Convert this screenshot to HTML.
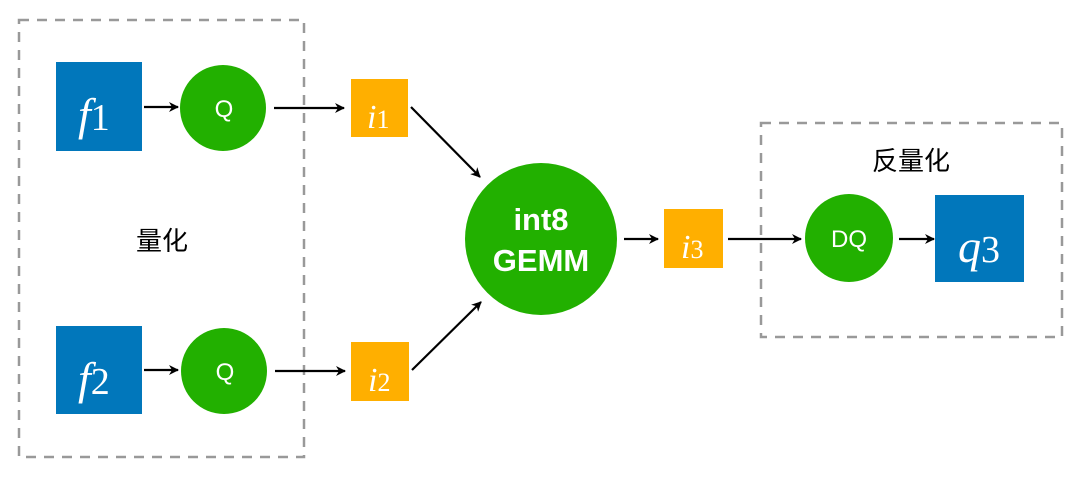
<!DOCTYPE html>
<html><head><meta charset="utf-8"><style>
html,body{margin:0;padding:0;background:#fff;}
</style></head><body>
<svg width="1080" height="476" viewBox="0 0 1080 476" xmlns="http://www.w3.org/2000/svg">
<defs><marker id="a" markerWidth="10" markerHeight="10" refX="9" refY="5" orient="auto" markerUnits="userSpaceOnUse"><path d="M0,0 L10,5 L0,10 L3,5 Z" fill="#000"/></marker></defs>
<g fill="none" stroke="#999" stroke-width="2.5" stroke-dasharray="10,8">
<rect x="19" y="20" width="285" height="437"/>
<rect x="761" y="123" width="301" height="214"/>
</g>
<rect x="56" y="62" width="86" height="89" fill="#0177BB"/>
<rect x="56" y="326" width="86" height="88" fill="#0177BB"/>
<rect x="935" y="195" width="89" height="87" fill="#0177BB"/>
<rect x="351" y="79" width="57" height="58" fill="#FFAF00"/>
<rect x="351" y="342" width="58" height="59" fill="#FFAF00"/>
<rect x="664" y="209" width="59" height="59" fill="#FFAF00"/>
<g fill="#22B000">
<circle cx="223" cy="108" r="43"/>
<circle cx="224" cy="371" r="43"/>
<circle cx="541" cy="239" r="76"/>
<circle cx="849" cy="238" r="44"/>
</g>
<g stroke="#000" stroke-width="2.2" marker-end="url(#a)">
<line x1="144" y1="107" x2="178" y2="107"/>
<line x1="144" y1="370" x2="178" y2="370"/>
<line x1="274" y1="108" x2="344" y2="108"/>
<line x1="275" y1="371" x2="345" y2="371"/>
<line x1="411" y1="107" x2="480" y2="177"/>
<line x1="412" y1="370" x2="481" y2="302"/>
<line x1="624" y1="239" x2="658" y2="239"/>
<line x1="728" y1="239" x2="801" y2="239"/>
<line x1="899" y1="239" x2="934" y2="239"/>
</g>
<g fill="#fff" font-family="Liberation Sans, sans-serif" text-anchor="middle">
<text x="224" y="117" font-size="24">Q</text>
<text x="225" y="380" font-size="24">Q</text>
<text x="849" y="247" font-size="24">DQ</text>
<text x="541" y="230" font-size="31" font-weight="bold">int8</text>
<text x="541" y="271" font-size="31" font-weight="bold">GEMM</text>
</g>
<g fill="#fff" font-family="Liberation Serif, serif" font-style="italic">
<text x="78" y="130" font-size="46">f<tspan font-style="normal" font-size="38">1</tspan></text>
<text x="78" y="394" font-size="46">f<tspan font-style="normal" font-size="38">2</tspan></text>
<text x="958" y="262" font-size="46">q<tspan font-style="normal" font-size="38">3</tspan></text>
<text x="367" y="128" font-size="34">i<tspan font-style="normal" font-size="26">1</tspan></text>
<text x="368" y="391" font-size="34">i<tspan font-style="normal" font-size="26">2</tspan></text>
<text x="681" y="258" font-size="34">i<tspan font-style="normal" font-size="26">3</tspan></text>
</g>
<g fill="#000" font-family="Liberation Sans, 'Noto Sans CJK SC', sans-serif" font-size="26" text-anchor="middle">
<text x="162" y="250">量化</text>
<text x="911" y="170">反量化</text>
</g>
</svg>
</body></html>
